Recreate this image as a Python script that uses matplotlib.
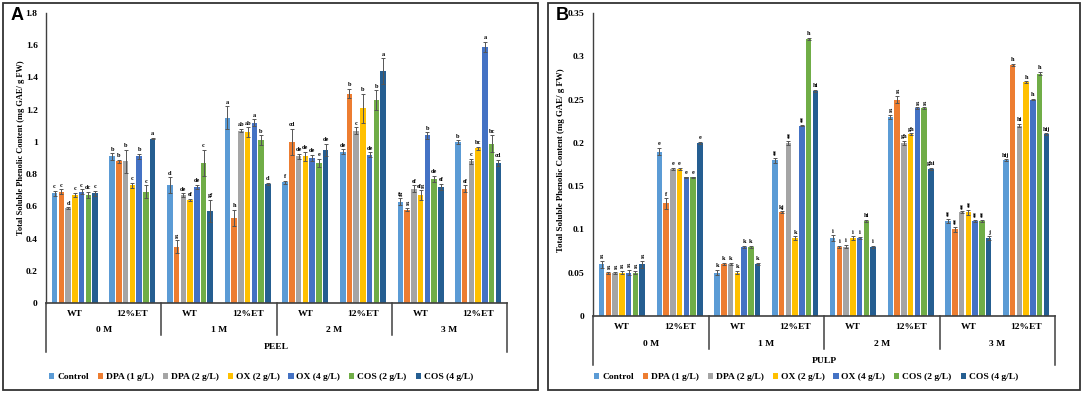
import matplotlib
matplotlib.use("Agg")
import matplotlib.pyplot as plt
from matplotlib.patches import Patch, Rectangle
from matplotlib.transforms import blended_transform_factory

# ---- data ----
series = ["Control", "DPA (1 g/L)", "DPA (2 g/L)", "OX (2 g/L)",
          "OX (4 g/L)", "COS (2 g/L)", "COS (4 g/L)"]
colors = ["#5B9BD5", "#ED7D31", "#A5A5A5", "#FFC000",
          "#4472C4", "#70AD47", "#255E91"]
groups = ["WT", "12%ET"] * 4
months = ["0 M", "1 M", "2 M", "3 M"]

# rows = groups (0M WT, 0M 12%ET, 1M WT, ...), columns = series
peel = [
    [0.68, 0.69, 0.59, 0.67, 0.69, 0.67, 0.68],
    [0.91, 0.88, 0.88, 0.73, 0.91, 0.69, 1.02],
    [0.73, 0.35, 0.67, 0.64, 0.72, 0.87, 0.57],
    [1.15, 0.53, 1.07, 1.06, 1.12, 1.01, 0.74],
    [0.75, 1.00, 0.91, 0.91, 0.90, 0.87, 0.95],
    [0.94, 1.30, 1.07, 1.21, 0.92, 1.26, 1.44],
    [0.63, 0.58, 0.71, 0.67, 1.04, 0.77, 0.72],
    [1.00, 0.71, 0.88, 0.96, 1.59, 0.99, 0.87],
]
peel_err = [
    [0.015, 0.015, 0.005, 0.015, 0.015, 0.02, 0.015],
    [0.02, 0.01, 0.07, 0.015, 0.015, 0.04, 0.005],
    [0.05, 0.04, 0.01, 0.005, 0.015, 0.08, 0.07],
    [0.07, 0.05, 0.01, 0.03, 0.02, 0.03, 0.005],
    [0.01, 0.08, 0.015, 0.03, 0.02, 0.025, 0.04],
    [0.015, 0.03, 0.02, 0.09, 0.015, 0.06, 0.08],
    [0.02, 0.01, 0.02, 0.03, 0.02, 0.02, 0.02],
    [0.01, 0.02, 0.015, 0.01, 0.03, 0.05, 0.02],
]
peel_letters = [
    ["c", "c", "d", "c", "c", "dc", "c"],
    ["b", "b", "b", "c", "b", "c", "a"],
    ["d", "g", "de", "ef", "de", "c", "gf"],
    ["a", "h", "ab", "ab", "a", "b", "d"],
    ["f", "cd", "de", "de", "de", "e", "de"],
    ["de", "b", "c", "b", "de", "b", "a"],
    ["fg", "g", "ef", "efg", "b", "de", "ef"],
    ["b", "ef", "c", "bc", "a", "bc", "cd"],
]

pulp = [
    [0.06, 0.05, 0.05, 0.05, 0.05, 0.05, 0.06],
    [0.19, 0.13, 0.17, 0.17, 0.16, 0.16, 0.20],
    [0.05, 0.06, 0.06, 0.05, 0.08, 0.08, 0.06],
    [0.18, 0.12, 0.20, 0.09, 0.22, 0.32, 0.26],
    [0.09, 0.08, 0.08, 0.09, 0.09, 0.11, 0.08],
    [0.23, 0.25, 0.20, 0.21, 0.24, 0.24, 0.17],
    [0.11, 0.10, 0.12, 0.12, 0.11, 0.11, 0.09],
    [0.18, 0.29, 0.22, 0.27, 0.25, 0.28, 0.21],
]
pulp_err = [
    [0.004, 0.001, 0.001, 0.002, 0.003, 0.002, 0.004],
    [0.004, 0.006, 0.001, 0.001, 0.001, 0.001, 0.001],
    [0.003, 0.001, 0.001, 0.002, 0.001, 0.001, 0.001],
    [0.003, 0.001, 0.002, 0.002, 0.001, 0.001, 0.001],
    [0.003, 0.001, 0.002, 0.002, 0.001, 0.001, 0.001],
    [0.002, 0.004, 0.002, 0.001, 0.001, 0.001, 0.001],
    [0.002, 0.003, 0.001, 0.003, 0.001, 0.001, 0.002],
    [0.001, 0.001, 0.002, 0.001, 0.001, 0.002, 0.001],
]
pulp_letters = [
    ["g", "g", "g", "g", "g", "g", "g"],
    ["e", "f", "e", "e", "e", "e", "e"],
    ["k", "k", "k", "k", "k", "k", "k"],
    ["ij", "kj", "ij", "k", "ij", "h", "hi"],
    ["i", "i", "i", "i", "i", "hi", "i"],
    ["g", "g", "gh", "gh", "g", "g", "ghi"],
    ["ij", "ij", "ij", "ij", "ij", "ij", "j"],
    ["hij", "h", "hi", "h", "h", "h", "hij"],
]

W, H = 1084, 394
SERIF = "Liberation Serif"
LINE = "#404040"


def px_rect(x0, y0, x1, y1):
    """Pixel box (top-left origin) -> figure fraction rect."""
    return [x0 / W, 1 - y1 / H, (x1 - x0) / W, (y1 - y0) / H]


def draw_panel(fig, box, data, err, letters, ymax, ystep, yfmt, part,
               rows_px, ylabel_pos, ylabel_size, label_off):
    """Draw one clustered bar panel with Excel-like multi-level category axis."""
    x0, top, x1, bot = box
    ax = fig.add_axes(px_rect(x0, top, x1, bot))
    slot, width = 0.117, 0.097
    for g, (vals, errs, lets) in enumerate(zip(data, err, letters)):
        for j in range(len(series)):
            xc = g + (j - 3) * slot
            ax.bar(xc, vals[j], width=width, color=colors[j], zorder=2)
            ax.errorbar(xc, vals[j], yerr=errs[j], fmt="none", ecolor="#555555",
                        elinewidth=0.7, capsize=1.2, capthick=0.7, zorder=3)
            ax.text(xc, vals[j] + errs[j] + label_off, lets[j], ha="center",
                    va="bottom", fontsize=4.5, fontweight="bold", family=SERIF)

    ax.set_xlim(-0.5, 7.5)
    ax.set_ylim(0, ymax)
    ticks = [i * ystep for i in range(int(round(ymax / ystep)) + 1)]
    ax.set_yticks(ticks)
    ax.set_yticklabels([yfmt(t) for t in ticks], fontsize=6.8,
                       fontweight="bold", family=SERIF)
    ax.tick_params(axis="y", length=0, pad=6)
    ax.set_xticks([])
    for s in ("top", "right"):
        ax.spines[s].set_visible(False)
    ax.spines["left"].set_color(LINE)
    ax.spines["bottom"].set_color(LINE)
    ax.spines["left"].set_linewidth(1.0)
    ax.spines["bottom"].set_linewidth(1.2)

    def yf(y):
        return (bot - y) / (bot - top)

    trans = blended_transform_factory(ax.transData, ax.transAxes)
    grp_y, mon_y, part_y, div_end, out_end = rows_px
    for b in range(5):
        xb = -0.5 + 2 * b
        end = out_end if b in (0, 4) else div_end
        ax.plot([xb, xb], [0, yf(end)], transform=trans, color=LINE,
                lw=1.1, clip_on=False)
    for g, name in enumerate(groups):
        ax.text(g, yf(grp_y), name, transform=trans, ha="center", va="center",
                fontsize=6.8, fontweight="bold", family=SERIF)
    for m, name in enumerate(months):
        ax.text(2 * m + 0.5, yf(mon_y), name, transform=trans, ha="center",
                va="center", fontsize=6.8, fontweight="bold", family=SERIF)
    ax.text(3.5, yf(part_y), part, transform=trans, ha="center", va="center",
            fontsize=6.8, fontweight="bold", family=SERIF)

    lx, ly = ylabel_pos
    fig.text(lx / W, 1 - ly / H,
             "Total Soluble Phenolic Content (mg GAE/ g FW)", rotation=90,
             ha="center", va="center", fontsize=ylabel_size,
             fontweight="bold", family=SERIF)
    return ax


def fmt_peel(v):
    return "0" if v == 0 else ("%g" % round(v, 1))


def fmt_pulp(v):
    return "0" if v == 0 else ("%g" % round(v, 2))


def main():
    fig = plt.figure(figsize=(W / 100, H / 100), dpi=100)

    # panel frames
    for (a, b, c, d) in [(3, 3, 538, 390), (548, 3, 1080, 390)]:
        fig.patches.append(Rectangle((a / W, 1 - d / H), (c - a) / W, (d - b) / H,
                                     transform=fig.transFigure, fill=False,
                                     edgecolor="#333333", lw=1.3))

    draw_panel(fig, (46, 13, 507, 303), peel, peel_err, peel_letters, 1.8, 0.2,
               fmt_peel, "PEEL", (314, 330, 347, 335, 352), (21, 148), 6.0, 0.01)
    draw_panel(fig, (593, 13, 1055, 316), pulp, pulp_err, pulp_letters, 0.35, 0.05,
               fmt_pulp, "PULP", (327, 344, 361, 349, 365), (561, 160), 6.4, 0.002)

    fig.text(11 / W, 1 - 16 / H, "A", fontsize=13, fontweight="bold",
             family="Liberation Sans", va="center", ha="left")
    fig.text(556 / W, 1 - 16 / H, "B", fontsize=13, fontweight="bold",
             family="Liberation Sans", va="center", ha="left")

    handles = [Patch(facecolor=c, edgecolor="none") for c in colors]
    prop = {"family": SERIF, "weight": "bold", "size": 6.8}
    for cx in (261, 806):
        fig.legend(handles, series, loc="center", bbox_to_anchor=(cx / W, 1 - 377 / H),
                   ncol=7, frameon=False, prop=prop, handlelength=0.55,
                   handleheight=0.55, handletextpad=0.3, columnspacing=0.95)

    fig.savefig("out.png", dpi=100)


if __name__ == "__main__":
    main()
